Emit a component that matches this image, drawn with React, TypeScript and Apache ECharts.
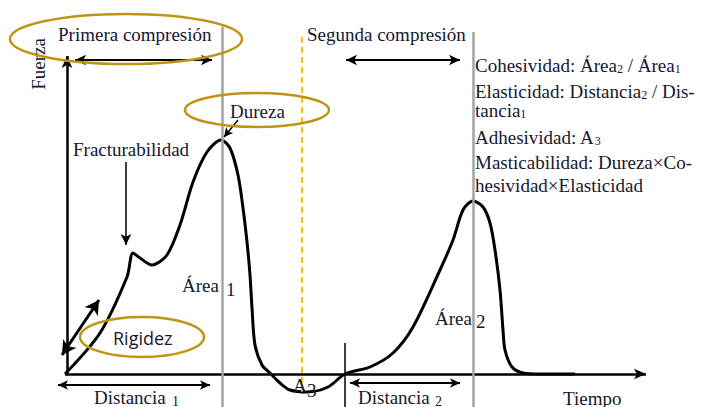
import React, { useEffect, useRef } from "react";
import * as echarts from "echarts";

// Curve of the texture profile (time vs force)
const timeValues = [0, 35, 62, 68, 75, 87, 102, 115, 128, 142, 156, 165, 173, 178, 182, 185, 187, 190, 197, 205, 215, 225, 242, 263, 280, 305, 328, 348, 375, 388, 398, 408, 418, 425, 430, 435, 438, 440, 447, 458, 475, 510];
const forceValues = [0, 41, 97, 121, 116, 109, 119, 149, 192, 222, 234, 226, 199, 166, 132, 99, 66, 29, 9, 1, -9, -16, -18, -13, 0, 7, 21, 47, 104, 134, 164, 173, 167, 151, 124, 84, 44, 24, 7, 1, 0, 0];

const definitionLines = [
  "Cohesividad: Área{s|2} / Área{s|1}",
  "Elasticidad: Distancia{s|2} / Dis-",
  "tancia{s|1}",
  "Adhesividad: A{s|3}",
  "Masticabilidad: Dureza×Co-",
  "hesividad×Elasticidad",
];

const SERIF = "Liberation Serif";
const INK = "#17172e";
const GOLD = "#BF9414";
const FS = 19;

export default function App() {
  const ref = useRef<HTMLDivElement>(null);
  useEffect(() => {
    if (!ref.current) return;
    const chart = echarts.init(ref.current, null, { renderer: "svg" });
    const data = timeValues.map((t, i) => [t, forceValues[i]]);

    const seg = (a: number[], b: number[], opts: any = {}) => [
      {
        coord: a,
        symbol: opts.s0 || "none",
        symbolSize: opts.size || [8, 12],
        lineStyle: {
          color: opts.color || "#000",
          width: opts.width || 2,
          type: opts.type || "solid",
        },
      },
      { coord: b, symbol: opts.s1 || "none", symbolSize: opts.size || [8, 12] },
    ];

    const markLines = [
      // axes
      seg([2, 0], [2, 318], { s1: "arrow", width: 2.5, size: [8, 12] }),
      seg([0, 0], [581, 0], { s1: "arrow", width: 2.5, size: [8, 12] }),
      // reference verticals
      seg([157, 347], [157, -33], { color: "#a3a3a3", width: 2.5 }),
      seg([408, 342], [408, -33], { color: "#a3a3a3", width: 2.5 }),
      seg([237, 337], [237, -18], { color: "#FFC000", width: 2, type: [6, 4] }),
      seg([280, 31], [280, -33], { color: "#000", width: 1.5 }),
      // compression arrows
      seg([10, 314], [147, 314], { s0: "arrow", s1: "arrow", width: 2, size: [8, 11] }),
      seg([281, 314], [395, 314], { s0: "arrow", s1: "arrow", width: 2, size: [8, 11] }),
      // distance arrows
      seg([-7, -11], [145, -11], { s0: "arrow", s1: "arrow", width: 1.8, size: [7, 10] }),
      seg([285, -9], [395, -9], { s0: "arrow", s1: "arrow", width: 1.8, size: [7, 10] }),
      // rigidez
      seg([-3, 19], [34, 74], { s0: "arrow", s1: "arrow", width: 3, size: [12, 14] }),
      // fracturabilidad
      seg([61, 212], [61, 129], { s1: "arrow", width: 1.5, size: [8, 11] }),
      // dureza
      seg([173, 254], [159, 237], { s1: "arrow", width: 1.5, size: [7, 9] }),
    ];

    const txt = (text: string, x: number, y: number, extra: any = {}) => ({
      type: "text",
      x,
      y,
      z: 10,
      rotation: extra.rotation || 0,
      style: {
        text,
        fill: INK,
        fontFamily: extra.family || SERIF,
        fontSize: extra.size || FS,
        align: extra.align || "left",
        verticalAlign: "middle",
        rich: {
          s: { fontSize: 12, fontFamily: SERIF, fill: INK, verticalAlign: "bottom" },
        },
      },
    });

    const ell = (cx: number, cy: number, rx: number, ry: number) => ({
      type: "ellipse",
      z: 11,
      shape: { cx, cy, rx, ry },
      style: { fill: "none", stroke: GOLD, lineWidth: 2.5 },
    });

    const defYs = [65, 91, 110, 137, 162, 185];

    chart.setOption({
      animation: false,
      grid: { left: 55, right: 46, top: 24, bottom: 0 },
      xAxis: {
        type: "value",
        min: -10,
        max: 590,
        axisLine: { show: false },
        axisTick: { show: false },
        axisLabel: { show: false },
        splitLine: { show: false },
      },
      yAxis: {
        type: "value",
        min: -33,
        max: 350,
        axisLine: { show: false },
        axisTick: { show: false },
        axisLabel: { show: false },
        splitLine: { show: false },
      },
      series: [
        {
          type: "line",
          data,
          smooth: 0.3,
          showSymbol: false,
          clip: false,
          silent: true,
          lineStyle: { color: "#000", width: 3 },
          markLine: {
            silent: true,
            animation: false,
            label: { show: false },
            emphasis: { disabled: true },
            data: markLines,
          },
        },
      ],
      graphic: [
        txt("Fuerza", 38, 64, { rotation: Math.PI / 2, align: "center" }),
        txt("Primera compresión", 58, 34),
        txt("Segunda compresión", 307, 34),
        txt("Dureza", 230, 111),
        txt("Fracturabilidad", 73, 149),
        txt("Área", 182, 285),
        txt("1", 226, 289),
        txt("Área", 435, 318),
        txt("2", 476, 321),
        txt("A", 293, 385),
        txt("3", 307, 390),
        txt("Distancia", 94, 397),
        txt("1", 172, 401, { size: 14 }),
        txt("Distancia", 358, 397),
        txt("2", 435, 401, { size: 14 }),
        txt("Tiempo", 563, 398),
        txt("Rigidez", 113, 338, { family: "Open Sans", size: 18 }),
        ...definitionLines.map((l, i) => txt(l, 475, defYs[i])),
        ell(126, 39, 116, 25),
        ell(257, 110, 72, 17),
        ell(142, 337, 62, 20),
      ],
    });
    return () => chart.dispose();
  }, []);
  return <div ref={ref} style={{ width: 701, height: 407, position: "absolute", left: 0, top: 0, background: "#fff" }} />;
}
